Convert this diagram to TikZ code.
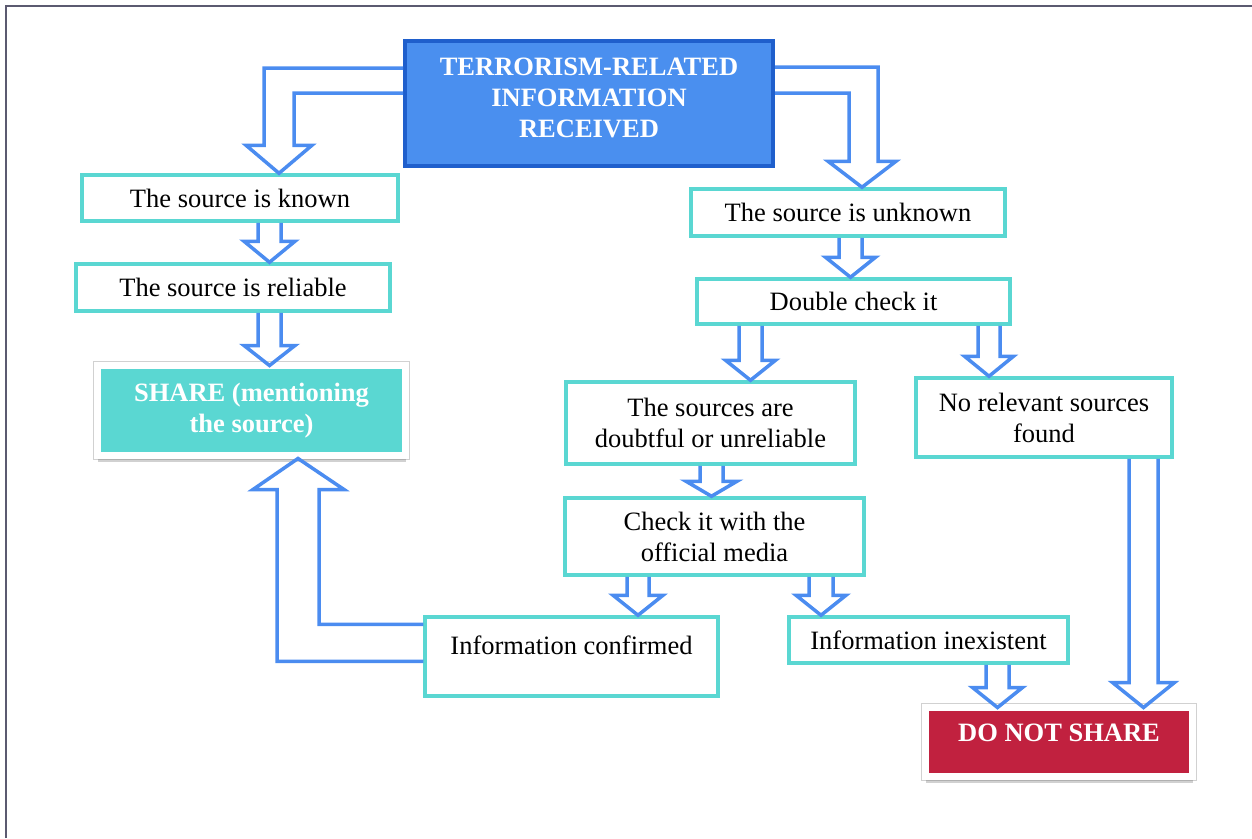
\documentclass[tikz,border=0pt]{standalone}
\usepackage{fontspec}
\setmainfont{Liberation Serif}
\usetikzlibrary{calc,shadows}
\definecolor{arrowblue}{HTML}{4B8CF0}
\definecolor{tealb}{HTML}{5AD7D2}
\definecolor{topfill}{HTML}{4A8FEF}
\definecolor{topborder}{HTML}{1F5FCC}
\definecolor{crimson}{HTML}{C1213F}
\definecolor{framecol}{HTML}{5B5A70}
\newcommand\bodyfont{\fontsize{26.5}{31}\selectfont}
% vertical block arrow: #1 source node, #2 target node, #3 centre x, #4 half shaft, #5 half head, #6 head length
\newcommand\vblock[6]{%
  \draw[barrow] let \p1=(#1.south), \p2=(#2.north) in
    ({#3pt-#4pt},\y1) -- ({#3pt-#4pt},{\y2+#6pt}) -- ({#3pt-#5pt},{\y2+#6pt})
    -- (#3pt,\y2) -- ({#3pt+#5pt},{\y2+#6pt}) -- ({#3pt+#4pt},{\y2+#6pt}) -- ({#3pt+#4pt},\y1);}
\begin{document}
\begin{tikzpicture}[x=1pt,y=-1pt,
  box/.style={draw=tealb, line width=3.5pt, fill=white, inner sep=0pt,
    font=\bodyfont, align=center, text=black},
  barrow/.style={draw=arrowblue, line width=3.5pt, line join=miter},
  bigbox/.style={draw=white, line width=7pt, inner sep=0pt, outer sep=0pt,
    font=\bodyfont\bfseries, align=center, text=white,
    preaction={draw=black!18, line width=9pt},
    drop shadow={shadow xshift=0pt, shadow yshift=-6pt, opacity=0.3, fill=black!60}}]
\useasboundingbox (0,0) rectangle (1252,838);
% frame
\coordinate (fa) at (6,838);
\coordinate (fb) at (6,6);
\coordinate (fc) at (1252,6);
\draw[framecol, line width=2.2pt] (fa) -- (fb) -- (fc);

% nodes
\node[draw=topborder, fill=topfill, line width=4pt, minimum width=368pt, minimum height=125pt] (top) at (589,103.5) {};
\node[font=\bodyfont\bfseries, align=center, text=white, inner sep=0pt] (toptext) at (589,97.5) {TERRORISM-RELATED\\INFORMATION\\RECEIVED};

\node[box, minimum width=316pt, minimum height=46pt] (known) at (240,198) {The source is known};
\node[box, minimum width=314pt, minimum height=47pt] (reliable) at (233,287.5) {The source is reliable};
\node[bigbox, fill=tealb, minimum width=308pt, minimum height=90pt] (share) at (251.5,410.5) {SHARE (mentioning\\the source)};

\node[box, minimum width=314pt, minimum height=47pt] (unknown) at (848,212.5) {The source is unknown};
\node[box, minimum width=313pt, minimum height=45pt] (double) at (853.5,301.5) {Double check it};
\node[box, minimum width=289pt, minimum height=82pt] (doubtful) at (710.5,423) {The sources are\\doubtful or unreliable};
\node[box, minimum width=256pt, minimum height=79pt] (norel) at (1044,417.5) {No relevant sources\\found};
\node[box, minimum width=299pt, minimum height=77pt] (check) at (714.5,536.5) {Check it with the\\official media};
\node[box, minimum width=293pt, minimum height=79pt, text depth=23pt] (confirmed) at (571.5,656.5) {Information confirmed};
\node[box, minimum width=279pt, minimum height=46pt] (inexistent) at (928.5,640) {Information inexistent};
\node[bigbox, fill=crimson, minimum width=267pt, minimum height=69pt, text depth=18pt] (donot) at (1059,742) {DO NOT SHARE};

% L-shaped block arrows from the top box
\draw[barrow] let \p1=(top.north west), \p2=(known.north) in
  (\x1,{\y1-29pt}) -- (264pt,{\y1-29pt}) -- (264pt,{\y2+28pt}) -- (246pt,{\y2+28pt})
  -- (279pt,\y2) -- (312pt,{\y2+28pt}) -- (294pt,{\y2+28pt}) -- (294pt,{\y1-54pt}) -- (\x1,{\y1-54pt});
\draw[barrow] let \p1=(top.north east), \p2=(unknown.north) in
  (\x1,{\y1-28pt}) -- (878pt,{\y1-28pt}) -- (878pt,{\y2+26pt}) -- (896pt,{\y2+26pt})
  -- (862pt,\y2) -- (828pt,{\y2+26pt}) -- (849pt,{\y2+26pt}) -- (849pt,{\y1-54pt}) -- (\x1,{\y1-54pt});

% vertical block arrows
\vblock{known}{reliable}{269.5}{11.5}{25.5}{21}
\vblock{reliable}{share}{269.5}{11.5}{25.5}{20}
\vblock{unknown}{double}{850.5}{11.5}{25}{20}
\vblock{double}{doubtful}{750.5}{11.5}{25}{20}
\vblock{double}{norel}{989}{11}{24.5}{20}
\vblock{doubtful}{check}{711.5}{11.5}{25.5}{15}
\vblock{check}{confirmed}{638}{11}{25}{20}
\vblock{check}{inexistent}{821}{12}{25}{20}
\vblock{inexistent}{donot}{997.5}{11.5}{25}{20}
\vblock{norel}{donot}{1143.5}{14.5}{31}{25}

% return arrow: confirmed -> share (upwards)
\draw[barrow] let \p1=(confirmed.north west), \p2=(share.south) in
  (\x1,{\y1-46pt}) -- (277pt,{\y1-46pt}) -- (277pt,{\y2-34pt}) -- (253pt,{\y2-34pt})
  -- (298pt,{\y2-3pt}) -- (344pt,{\y2-34pt}) -- (319pt,{\y2-34pt}) -- (319pt,{\y1-9pt}) -- (\x1,{\y1-9pt});
\end{tikzpicture}
\end{document}
